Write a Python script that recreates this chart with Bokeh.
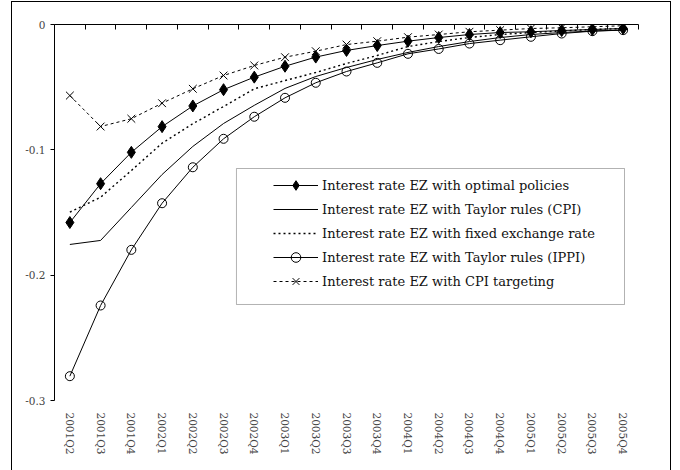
import math

from bokeh.embed import file_html
from bokeh.models import (BoxAnnotation, CustomJSTickFormatter, FixedTicker,
                          Legend, LegendItem, LinearAxis, Range1d)
from bokeh.plotting import figure
from bokeh.resources import INLINE

# Quarterly horizon of the simulated response
quarters = ["2001Q2", "2001Q3", "2001Q4", "2002Q1", "2002Q2", "2002Q3", "2002Q4",
            "2003Q1", "2003Q2", "2003Q3", "2003Q4", "2004Q1", "2004Q2", "2004Q3",
            "2004Q4", "2005Q1", "2005Q2", "2005Q3", "2005Q4"]

# Euro-zone interest rate deviations under each policy regime
optimal = [-0.158, -0.127, -0.102, -0.0815, -0.065, -0.052, -0.042, -0.0333, -0.026,
           -0.0207, -0.0168, -0.0133, -0.0104, -0.008, -0.0064, -0.0058, -0.0048,
           -0.004, -0.0032]
taylor_cpi = [-0.1755, -0.1723, -0.146, -0.1197, -0.0973, -0.079, -0.0645, -0.051,
              -0.0415, -0.0343, -0.0279, -0.0223, -0.0176, -0.0136, -0.0104, -0.008,
              -0.0064, -0.0052, -0.0044]
fixed_fx = [-0.1497, -0.1378, -0.1165, -0.0947, -0.0792, -0.0654, -0.0513, -0.0447,
            -0.0383, -0.0311, -0.0247, -0.0176, -0.0136, -0.0104, -0.008, -0.0064,
            -0.0052, -0.004, -0.0032]
taylor_ippi = [-0.2806, -0.2242, -0.1798, -0.1426, -0.1139, -0.0912, -0.0736, -0.0585,
               -0.0465, -0.0375, -0.0306, -0.0234, -0.0195, -0.0152, -0.0125, -0.0098,
               -0.0072, -0.0053, -0.0045]
cpi_targeting = [-0.0567, -0.0814, -0.0752, -0.0628, -0.0513, -0.0407, -0.0327, -0.0261,
                 -0.0213, -0.016, -0.0133, -0.0101, -0.008, -0.0058, -0.0045, -0.0032,
                 -0.0026, -0.0018, -0.001]

labels = ["Interest rate EZ with optimal policies",
          "Interest rate EZ with Taylor rules (CPI)",
          "Interest rate EZ with fixed exchange rate",
          "Interest rate EZ with Taylor rules (IPPI)",
          "Interest rate EZ with CPI targeting"]

y_ticks = [-0.3, -0.2, -0.1, 0]

SERIF = "DejaVu Serif"
x = list(range(len(quarters)))

p = figure(width=660, height=469,
           x_range=Range1d(-0.5, len(quarters) - 0.5), y_range=Range1d(-0.3, 0),
           output_backend="svg", toolbar_location=None,
           min_border_left=43, min_border_right=33, min_border_top=23,
           min_border_bottom=70)
p.margin = (1, 0, 0, 11)
p.border_fill_color = None
p.background_fill_color = "white"
p.outline_line_color = None
p.styles = {"box-shadow": "inset 1px 1px 0 #000, inset -1px 0 0 #000"}
p.xgrid.visible = False
p.ygrid.visible = False

# Bottom axis: only the rotated quarter labels
xa = p.xaxis[0]
xa.ticker = FixedTicker(ticks=x)
xa.major_label_overrides = {i: q for i, q in enumerate(quarters)}
xa.major_label_orientation = -math.pi / 2
xa.axis_line_color = None
xa.major_tick_line_color = None
xa.minor_tick_line_color = None
xa.major_tick_in = 0
xa.major_tick_out = 0
xa.major_label_standoff = 12
xa.major_label_text_font = SERIF
xa.major_label_text_font_size = "10.5px"
xa.major_label_text_color = "#444"

# Zero line with tick marks between quarters
top = LinearAxis(ticker=FixedTicker(ticks=[i + 0.5 for i in range(-1, len(quarters))]),
                 formatter=CustomJSTickFormatter(code="return ''"))
top.major_tick_in = 5
top.major_tick_out = 0
top.minor_tick_line_color = None
top.axis_line_color = "black"
top.major_tick_line_color = "black"
top.major_label_text_font_size = "1px"
p.add_layout(top, "above")

ya = p.yaxis[0]
ya.ticker = FixedTicker(ticks=y_ticks)
ya.formatter = CustomJSTickFormatter(code="return tick === 0 ? '0' : tick.toFixed(1)")
ya.major_tick_in = 0
ya.major_tick_out = 4
ya.minor_tick_line_color = None
ya.axis_line_color = "black"
ya.major_tick_line_color = "black"
ya.major_label_standoff = 5
ya.major_label_text_font = SERIF
ya.major_label_text_font_size = "10.5px"
ya.major_label_text_color = "#444"

items = []

l1 = p.line(x, optimal, line_color="black", line_width=1)
m1 = p.scatter(x, optimal, marker="diamond", size=12, fill_color="black",
               line_color="black")
items.append(LegendItem(label=labels[0], renderers=[l1, m1]))

l2 = p.line(x, taylor_cpi, line_color="black", line_width=1)
items.append(LegendItem(label=labels[1], renderers=[l2]))

l3 = p.line(x, fixed_fx, line_color="black", line_width=1.4, line_dash="2 3")
items.append(LegendItem(label=labels[2], renderers=[l3]))

l4 = p.line(x, taylor_ippi, line_color="black", line_width=1)
m4 = p.scatter(x, taylor_ippi, marker="circle", size=9, fill_color=None,
               line_color="black")
items.append(LegendItem(label=labels[3], renderers=[l4, m4]))

l5 = p.line(x, cpi_targeting, line_color="black", line_width=1, line_dash="3 3")
m5 = p.scatter(x, cpi_targeting, marker="x", size=11, line_color="black")
items.append(LegendItem(label=labels[4], renderers=[l5, m5]))

# Legend frame
p.add_layout(BoxAnnotation(left=5.42, right=18.045, top=-0.1149, bottom=-0.2234,
                           fill_color=None, line_color="black", line_width=1))

legend = Legend(items=items, location=(219, 107), padding=0, spacing=0, margin=0,
                label_height=24, glyph_height=24, glyph_width=45, label_standoff=4,
                border_line_color=None, background_fill_alpha=0,
                label_text_font=SERIF, label_text_font_size="13px",
                label_text_color="#111")
p.add_layout(legend)

open("out.html", "w").write(file_html(p, INLINE))
